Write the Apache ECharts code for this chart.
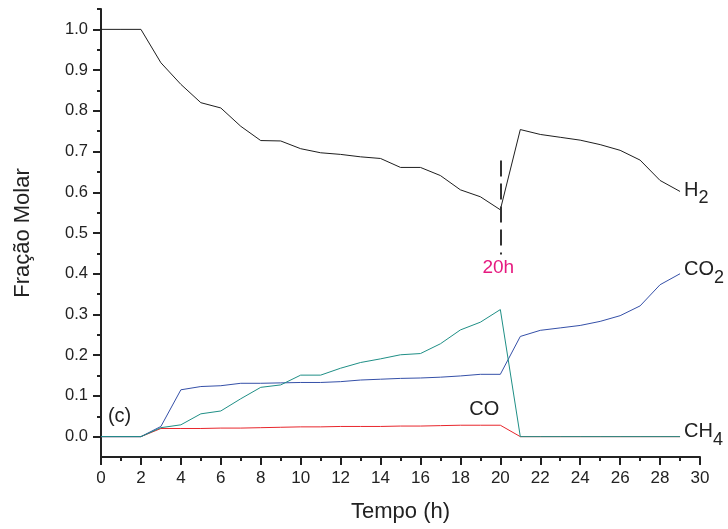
<!DOCTYPE html>
<html><head><meta charset="utf-8">
<script src="https://cdn.jsdelivr.net/npm/echarts@6/dist/echarts.min.js"></script>
<style>html,body{margin:0;padding:0;background:#fff}#c{width:728px;height:529px}</style>
</head><body><div id="c"></div>
<script>
const hours = [0,1,2,3,4,5,6,7,8,9,10,11,12,13,14,15,16,17,18,19,20,21,22,23,24,25,26,27,28,29];
const h2  = [1.0,1.0,1.0,0.918,0.865,0.820,0.807,0.762,0.727,0.726,0.707,0.697,0.693,0.687,0.683,0.661,0.661,0.641,0.606,0.589,0.557,0.754,0.742,0.735,0.728,0.717,0.703,0.679,0.629,0.602];
const co2 = [0,0,0,0.025,0.115,0.123,0.125,0.131,0.131,0.132,0.133,0.133,0.135,0.139,0.141,0.143,0.144,0.146,0.149,0.153,0.153,0.246,0.261,0.267,0.273,0.283,0.297,0.321,0.373,0.400];
const ch4 = [0,0,0,0.022,0.029,0.056,0.063,0.093,0.121,0.127,0.151,0.151,0.168,0.182,0.191,0.201,0.204,0.228,0.262,0.281,0.312,0,0,0,0,0,0,0,0,0];
const co  = [0,0,0,0.020,0.020,0.020,0.021,0.021,0.022,0.023,0.024,0.024,0.025,0.025,0.025,0.026,0.026,0.027,0.028,0.028,0.028,0,0,0,0,0,0,0,0,0];
const yTicks = [0.0,0.1,0.2,0.3,0.4,0.5,0.6,0.7,0.8,0.9,1.0];
const yMinorTicks = [0.05,0.15,0.25,0.35,0.45,0.55,0.65,0.75,0.85,0.95,1.05];

const FONT = '"Liberation Sans", Arial, sans-serif';
const TXT = '#222';
const zip = arr => hours.map((h, i) => [h, arr[i]]);
const subRich = {
  m: {fontSize: 20, fontFamily: FONT, color: TXT, padding: [0,0,8,0]},
  s: {fontSize: 18, fontFamily: FONT, color: TXT, padding: [8,0,0,0]}
};
const endMark = (val, main, s, dy) => ({
  symbol: 'circle', symbolSize: 0, silent: true, animation: false,
  data: [{coord: [hours[hours.length - 1], val],
    label: {show: true, position: 'right', distance: 4, offset: [0, dy],
      formatter: '{m|' + main + '}{s|' + s + '}', rich: subRich}}]
});
const lineSeries = (name, arr, color, extra) => Object.assign({
  name, type: 'line', data: zip(arr), showSymbol: false, symbol: 'none',
  lineStyle: {color, width: 1}, itemStyle: {color}, animation: false, silent: true
}, extra || {});

const chart = echarts.init(document.getElementById('c'));
chart.setOption({
  backgroundColor: '#fff',
  animation: false,
  grid: {left: 101, right: 28, top: 9, bottom: 72, containLabel: false},
  xAxis: {
    type: 'value', min: 0, max: 30, interval: 2,
    axisLine: {onZero: false, lineStyle: {color: TXT, width: 2}},
    axisTick: {length: 8, lineStyle: {color: TXT, width: 2}},
    minorTick: {show: true, splitNumber: 2, length: 4, lineStyle: {color: TXT, width: 2}},
    splitLine: {show: false}, minorSplitLine: {show: false},
    axisLabel: {fontSize: 17, color: TXT, fontFamily: FONT, margin: 13},
    name: 'Tempo (h)', nameLocation: 'middle', nameGap: 44,
    nameTextStyle: {fontSize: 22, color: TXT, fontFamily: FONT}
  },
  yAxis: [{
    type: 'value', min: -0.05, max: 1.05,
    axisLine: {show: true, onZero: false, lineStyle: {color: TXT, width: 2}},
    axisTick: {show: true, customValues: yTicks, length: 8, lineStyle: {color: TXT, width: 2}},
    axisLabel: {customValues: yTicks, formatter: v => Number(v).toFixed(1),
      fontSize: 16.5, color: TXT, fontFamily: FONT, margin: 13},
    splitLine: {show: false},
    name: 'Fração Molar', nameLocation: 'middle', nameGap: 67,
    nameTextStyle: {fontSize: 22, color: TXT, fontFamily: FONT}
  }, {
    type: 'value', min: -0.05, max: 1.05, position: 'left',
    axisLine: {show: false, onZero: false},
    axisTick: {show: true, customValues: yMinorTicks, length: 4, lineStyle: {color: TXT, width: 2}},
    axisLabel: {show: false}, splitLine: {show: false}
  }],
  series: [
    lineSeries('H2', h2, '#1e1e1e', {
      markLine: {
        silent: true, symbol: 'none', animation: false,
        label: {show: false},
        lineStyle: {type: [16, 7], width: 2, color: '#333'},
        data: [[{coord: [20, 0.678]}, {coord: [20, 0.447]}]]
      },
      markPoint: {
        symbol: 'circle', symbolSize: 0, silent: true, animation: false,
        data: [
          {coord: [hours[hours.length - 1], h2[h2.length - 1]],
            label: {show: true, position: 'right', distance: 4, offset: [0, 3],
              formatter: '{m|H}{s|2}', rich: subRich}},
          {coord: [19.9, 0.414],
            label: {show: true, position: 'inside', formatter: '20h',
              fontSize: 19, fontFamily: FONT, color: '#e6197f'}}
        ]
      }
    }),
    lineSeries('CO', co, '#e8262c', {
      markPoint: {
        symbol: 'circle', symbolSize: 0, silent: true, animation: false,
        data: [
          {coord: [19.2, 0.067],
            label: {show: true, position: 'inside', formatter: 'CO',
              fontSize: 20, fontFamily: FONT, color: TXT}},
          {coord: [0.93, 0.049],
            label: {show: true, position: 'inside', formatter: '(c)',
              fontSize: 20, fontFamily: FONT, color: TXT}}
        ]
      }
    }),
    lineSeries('CO2', co2, '#3550a8', {markPoint: endMark(co2[co2.length - 1], 'CO', '2', 0)}),
    lineSeries('CH4', ch4, '#1f8f86', {markPoint: endMark(ch4[ch4.length - 1], 'CH', '4', -1)})
  ]
});
</script>
</body></html>
